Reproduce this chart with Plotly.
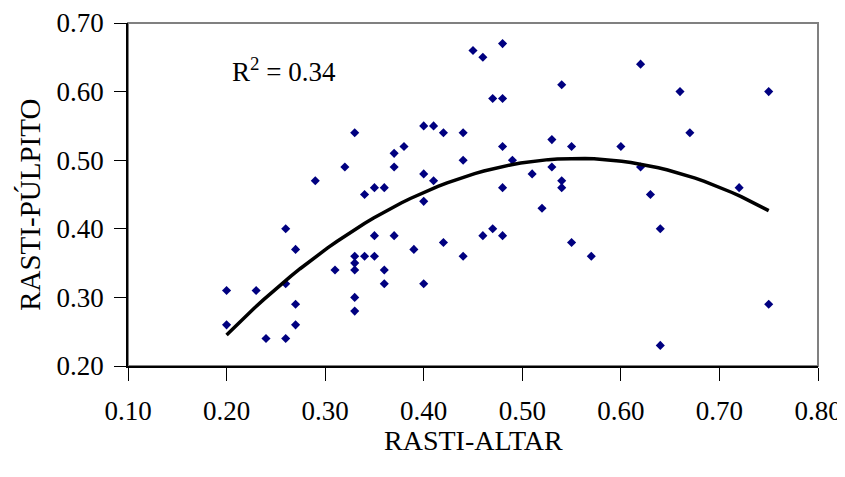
import numpy as np
import plotly.graph_objects as go

# RASTI altar vs pulpito
rasti_altar = [0.33, 0.32, 0.29, 0.34, 0.45, 0.46, 0.48, 0.47, 0.48, 0.54,
               0.40, 0.41, 0.42, 0.44, 0.37, 0.38, 0.37, 0.35, 0.36, 0.40,
               0.41, 0.44, 0.48, 0.49, 0.48, 0.51, 0.53, 0.53, 0.55, 0.54,
               0.54, 0.62, 0.66, 0.75, 0.67, 0.60, 0.62, 0.63, 0.72, 0.26,
               0.27, 0.33, 0.34, 0.33, 0.33, 0.31, 0.20, 0.23, 0.26, 0.27,
               0.33, 0.33, 0.20, 0.27, 0.24, 0.26, 0.40, 0.52, 0.35, 0.37,
               0.35, 0.36, 0.36, 0.39, 0.40, 0.42, 0.44, 0.46, 0.47, 0.48,
               0.55, 0.57, 0.64, 0.75, 0.64]
rasti_pulpito = [0.54, 0.49, 0.47, 0.45, 0.66, 0.65, 0.67, 0.59, 0.59, 0.61,
                 0.55, 0.55, 0.54, 0.54, 0.51, 0.52, 0.49, 0.46, 0.46, 0.48,
                 0.47, 0.50, 0.52, 0.50, 0.46, 0.48, 0.53, 0.49, 0.52, 0.47,
                 0.46, 0.64, 0.60, 0.60, 0.54, 0.52, 0.49, 0.45, 0.46, 0.40,
                 0.37, 0.36, 0.36, 0.35, 0.34, 0.34, 0.31, 0.31, 0.32, 0.29,
                 0.30, 0.28, 0.26, 0.26, 0.24, 0.24, 0.44, 0.43, 0.39, 0.39,
                 0.36, 0.34, 0.32, 0.37, 0.32, 0.38, 0.36, 0.39, 0.40, 0.39,
                 0.38, 0.36, 0.40, 0.29, 0.23]
x_ticks = [0.1, 0.2, 0.3, 0.4, 0.5, 0.6, 0.7, 0.8]
y_ticks = [0.2, 0.3, 0.4, 0.5, 0.6, 0.7]

# polynomial trendline (order 2)
coef = np.polyfit(rasti_altar, rasti_pulpito, 2)
xs = np.linspace(min(rasti_altar), max(rasti_altar), 60)
ys = np.polyval(coef, xs)

fnt = "Liberation Serif, Times New Roman, serif"

fig = go.Figure()
fig.add_trace(go.Scatter(
    x=rasti_altar, y=rasti_pulpito, mode="markers",
    marker=dict(symbol="diamond", size=7, color="#000080"),
    showlegend=False))
fig.add_trace(go.Scatter(
    x=xs, y=ys, mode="lines",
    line=dict(color="black", width=3.5),
    showlegend=False))

fig.add_annotation(x=0.203, y=0.632, xref="x", yref="y",
                   text="R<sup>2</sup> = 0.34", showarrow=False,
                   xanchor="left", font=dict(family=fnt, size=27, color="black"))

# axis titles
fig.add_annotation(x=0.5, y=0, xref="paper", yref="paper", yshift=-74,
                   text="RASTI-ALTAR", showarrow=False, xanchor="center", yanchor="middle",
                   font=dict(family=fnt, size=28, color="black"))
fig.add_annotation(x=0, y=0.47, xref="paper", yref="paper", xshift=-98,
                   text="RASTI-PÚLPITO", showarrow=False, textangle=-90,
                   xanchor="center", yanchor="middle",
                   font=dict(family=fnt, size=29, color="black"))

# grey frame on top/right like Excel plot area
fig.add_shape(type="rect", xref="paper", yref="paper", x0=0, y0=0, x1=1, y1=1,
              line=dict(color="#808080", width=2), layer="below")

fig.update_xaxes(range=[0.1, 0.8], tickvals=x_ticks, ticktext=["%.2f" % v for v in x_ticks],
                 showgrid=False, zeroline=False, showline=True, linecolor="black", linewidth=1.5,
                 ticks="outside", ticklen=13, tickcolor="black", ticklabelstandoff=7,
                 tickfont=dict(family=fnt, size=27, color="black"), automargin=False)
fig.update_yaxes(range=[0.2, 0.7], tickvals=y_ticks, ticktext=["%.2f" % v for v in y_ticks],
                 showgrid=False, zeroline=False, showline=True, linecolor="black", linewidth=1.5,
                 ticks="outside", ticklen=12, tickcolor="black", ticklabelstandoff=5,
                 tickfont=dict(family=fnt, size=27, color="black"), automargin=False)

# page body adds an 8px offset, so the figure is a bit smaller than the window
fig.update_layout(width=837, height=469, plot_bgcolor="white", paper_bgcolor="white",
                  margin=dict(l=120, r=27, t=15, b=111))

fig.write_html("out.html")
